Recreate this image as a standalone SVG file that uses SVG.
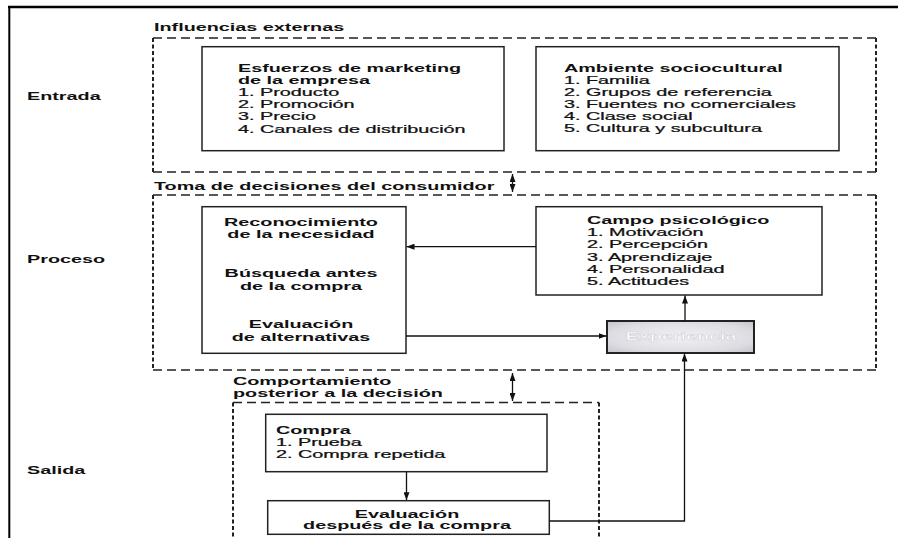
<svg xmlns="http://www.w3.org/2000/svg" width="898" height="538" viewBox="0 0 898 538">
<defs>
<style>
text{font-family:"Liberation Sans",Arial,sans-serif;font-size:11px;fill:#111;stroke:#111;stroke-width:0.25}
.b{font-weight:bold;stroke:none}
.c{text-anchor:middle}
.box{fill:#fff;stroke:#222;stroke-width:1.5}
.dh{fill:none;stroke:#222;stroke-width:1.3;stroke-dasharray:9 5}
.dv{fill:none;stroke:#222;stroke-width:2;stroke-dasharray:4 2.5}
.ln{fill:none;stroke:#111;stroke-width:1.3}
.frame{fill:none;stroke:#000}
</style>
<marker id="ah" markerUnits="userSpaceOnUse" markerWidth="8" markerHeight="6" refX="8" refY="3" orient="auto-start-reverse"><path d="M0,0 L8,3 L0,6 z" fill="#111"/></marker>
<radialGradient id="exg" cx="50%" cy="50%" r="70%"><stop offset="0" stop-color="#f2f2f5"/><stop offset="0.7" stop-color="#dcdce2"/><stop offset="1" stop-color="#c4c4cc"/></radialGradient>
</defs>
<rect width="898" height="538" fill="#fff"/>
<g id="frame">
<line class="frame" x1="8" y1="7" x2="898" y2="7" stroke-width="2.6"/>
<line class="frame" x1="9.3" y1="6" x2="9.3" y2="538" stroke-width="2"/>
</g>
<g id="side-labels">
<g transform="translate(27,0) scale(1.8,1)"><text class="b" y="100">Entrada</text><text class="b" y="263">Proceso</text><text class="b" y="474">Salida</text></g>
</g>
<g id="influencias-externas">
<line class="dh" x1="153" y1="38" x2="876" y2="38"/>
<line class="dh" x1="153" y1="172" x2="876" y2="172"/>
<line class="dv" x1="153" y1="38" x2="153" y2="172"/>
<line class="dv" x1="876" y1="38" x2="876" y2="172"/>
<g transform="translate(154,0) scale(1.8,1)"><text class="b" y="31">Influencias externas</text></g>
</g>
<g id="esfuerzos">
<rect class="box" x="202" y="46.7" width="302" height="104"/>
<g transform="translate(238,0) scale(1.8,1)">
<text class="b" y="72.3">Esfuerzos de marketing</text>
<text class="b" y="84">de la empresa</text>
<text y="96">1. Producto</text>
<text y="108.2">2. Promoción</text>
<text y="120.4">3. Precio</text>
<text y="132.6">4. Canales de distribución</text>
</g>
</g>
<g id="ambiente">
<rect class="box" x="536" y="46.7" width="303" height="104"/>
<g transform="translate(564,0) scale(1.8,1)">
<text class="b" y="71.7">Ambiente sociocultural</text>
<text y="83.6">1. Familia</text>
<text y="95.8">2. Grupos de referencia</text>
<text y="108">3. Fuentes no comerciales</text>
<text y="120.2">4. Clase social</text>
<text y="132.4">5. Cultura y subcultura</text>
</g>
</g>
<g id="toma-decisiones">
<line class="dh" x1="153" y1="195" x2="876" y2="195"/>
<line class="dh" x1="153" y1="370" x2="876" y2="370"/>
<line class="dv" x1="153" y1="195" x2="153" y2="370"/>
<line class="dv" x1="876" y1="195" x2="876" y2="370"/>
<g transform="translate(154,0) scale(1.8,1)"><text class="b" y="190">Toma de decisiones del consumidor</text></g>
</g>
<g id="reconocimiento">
<rect class="box" x="202" y="206.7" width="204" height="146.6"/>
<g transform="translate(301,0) scale(1.8,1)">
<text class="b c" y="225.7">Reconocimiento</text>
<text class="b c" y="238.3">de la necesidad</text>
<text class="b c" y="277.3">Búsqueda antes</text>
<text class="b c" y="290">de la compra</text>
<text class="b c" y="328.3">Evaluación</text>
<text class="b c" y="341">de alternativas</text>
</g>
</g>
<g id="campo">
<rect class="box" x="536" y="206.7" width="286" height="88.3"/>
<g transform="translate(587,0) scale(1.8,1)">
<text class="b" y="224">Campo psicológico</text>
<text y="236.2">1. Motivación</text>
<text y="248.4">2. Percepción</text>
<text y="260.6">3. Aprendizaje</text>
<text y="272.8">4. Personalidad</text>
<text y="285">5. Actitudes</text>
</g>
</g>
<g id="experiencia">
<rect x="607" y="321" width="147" height="32" fill="url(#exg)" stroke="#222" stroke-width="2"/>
<g transform="translate(681,0) scale(1.8,1)"><text class="b c" y="340.5" style="fill:#fff;stroke:#d8d0dc;stroke-width:0.5">Experiencia</text></g>
</g>
<g id="comportamiento">
<line class="dh" x1="233" y1="402.5" x2="599" y2="402.5"/>
<line class="dv" x1="233" y1="402.5" x2="233" y2="538"/>
<line class="dv" x1="599" y1="402.5" x2="599" y2="538"/>
<g transform="translate(233,0) scale(1.8,1)"><text class="b" y="385">Comportamiento</text><text class="b" y="397">posterior a la decisión</text></g>
</g>
<g id="compra">
<rect class="box" x="265.7" y="414.3" width="281.3" height="57.4"/>
<g transform="translate(276,0) scale(1.8,1)">
<text class="b" y="434">Compra</text>
<text y="446.2">1. Prueba</text>
<text y="458.4">2. Compra repetida</text>
</g>
</g>
<g id="evaluacion-despues">
<rect class="box" x="267.7" y="500.7" width="281.6" height="33.6"/>
<g transform="translate(407,0) scale(1.8,1)">
<text class="b c" y="518.3">Evaluación</text>
<text class="b c" y="529.5">después de la compra</text>
</g>
</g>
<g id="connectors">
<line class="ln" x1="536" y1="246.7" x2="406.5" y2="246.7" marker-end="url(#ah)"/>
<line class="ln" x1="406" y1="336" x2="606.5" y2="336" marker-end="url(#ah)"/>
<line class="ln" x1="685" y1="321" x2="685" y2="295.5" marker-end="url(#ah)" stroke-width="1.6"/>
<polyline class="ln" points="549.3,521 684.5,521 684.5,353.5" marker-end="url(#ah)" stroke-width="1.6"/>
<line class="ln" x1="406.5" y1="471.7" x2="406.5" y2="500.2" marker-end="url(#ah)" stroke-width="1.6"/>
<line class="ln" x1="512.5" y1="174" x2="512.5" y2="192" marker-start="url(#ah)" marker-end="url(#ah)" stroke-width="1.8"/>
<line class="ln" x1="512.5" y1="373" x2="512.5" y2="401" marker-start="url(#ah)" marker-end="url(#ah)" stroke-width="1.8"/>
</g>
</svg>
